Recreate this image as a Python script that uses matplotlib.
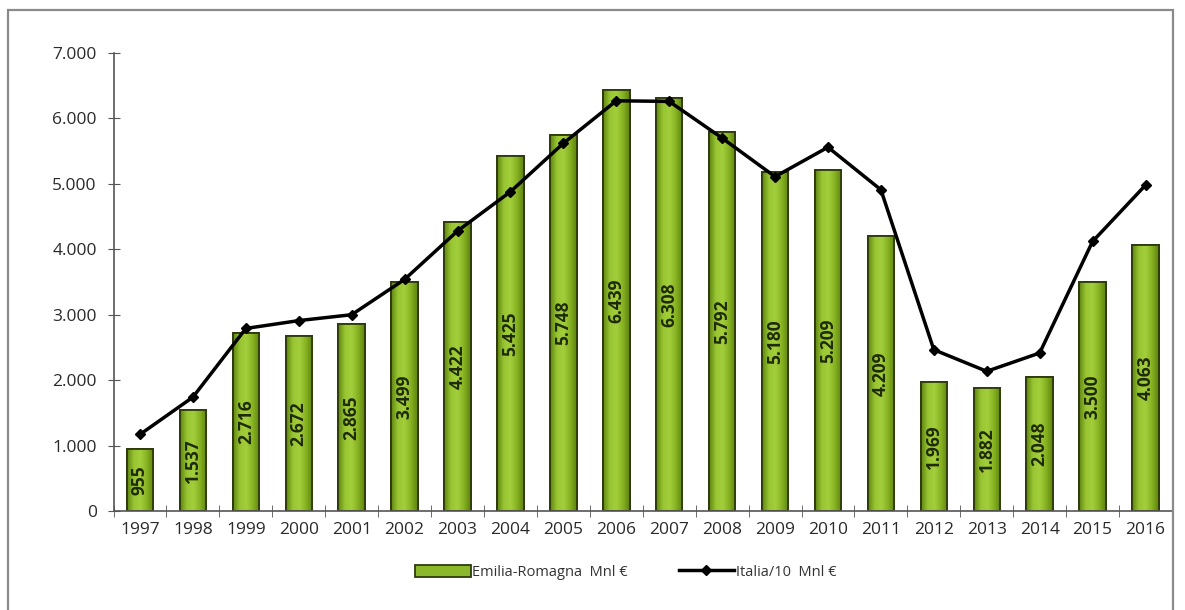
import matplotlib
matplotlib.use("Agg")
import matplotlib.pyplot as plt
from matplotlib.colors import LinearSegmentedColormap
from matplotlib.patches import Rectangle
from matplotlib.ticker import FuncFormatter, MultipleLocator
import numpy as np

plt.rcParams['font.family'] = ['Open Sans', 'DejaVu Sans']

# data
years = [str(y) for y in range(1997, 2017)]
emilia = [955, 1537, 2716, 2672, 2865, 3499, 4422, 5425, 5748, 6439,
          6308, 5792, 5180, 5209, 4209, 1969, 1882, 2048, 3500, 4063]
italia10 = [1170, 1740, 2790, 2910, 3000, 3540, 4280, 4880, 5620, 6270,
            6260, 5700, 5110, 5560, 4910, 2465, 2135, 2415, 4120, 4980]

fig = plt.figure(figsize=(11.85, 6.1), dpi=100)
ax = fig.add_axes([0.0958, 0.1623, 0.8932, 0.7508])

x = np.arange(len(years))
bars = ax.bar(x, emilia, width=0.5, color='#8AB82A', edgecolor='#2E3A0C',
              linewidth=1.3, zorder=2, label='Emilia-Romagna  Mnl \u20ac')

# cylinder-like gradient inside the bars
grad = LinearSegmentedColormap.from_list('g', ['#5F8410', '#98C532', '#A4CF3C', '#86B222', '#5E820E'])
g = np.linspace(0, 1, 64).reshape(1, -1)
for b in bars:
    x0, w, h = b.get_x(), b.get_width(), b.get_height()
    im = ax.imshow(g, cmap=grad, aspect='auto', extent=(x0, x0 + w, 0, h),
                   zorder=2.1, interpolation='bilinear')
    im.set_clip_path(b)
    ax.add_patch(Rectangle((x0, 0), w, h, fill=False, edgecolor='#2E3A0C',
                           linewidth=1.3, zorder=2.2))

# value labels, rotated and centered in bars
for xi, v in zip(x, emilia):
    ax.text(xi, v / 2, f'{v:,}'.replace(',', '.'), rotation=90, ha='center',
            va='center', fontsize=12.5, fontweight='bold', color='#1E2A04',
            fontstretch='condensed', zorder=4)

line, = ax.plot(x, italia10, color='black', linewidth=2.5, marker='D', markersize=5,
                zorder=5, label='Italia/10  Mnl \u20ac')

ax.set_xlim(-0.5, len(years) - 0.5)
ax.set_ylim(0, 7000)
ax.yaxis.set_major_locator(MultipleLocator(1000))
ax.yaxis.set_major_formatter(FuncFormatter(lambda v, p: f'{int(v):,}'.replace(',', '.')))
ax.set_xticks(x)
ax.set_xticklabels(years)
ax.set_xticks(np.arange(-0.5, len(years), 1), minor=True)
ax.tick_params(axis='x', which='major', length=0, pad=8, labelsize=12.5, labelcolor='#2A2A2A')
ax.tick_params(axis='x', which='minor', direction='inout', length=8, color='#555555')
ax.tick_params(axis='y', direction='inout', length=8, color='#555555', pad=8,
               labelsize=12.5, labelcolor='#2A2A2A')

for s in ['top', 'right']:
    ax.spines[s].set_visible(False)
for s in ['left', 'bottom']:
    ax.spines[s].set_color('#555555')
    ax.spines[s].set_linewidth(1.2)

leg = fig.legend([bars, line], ['Emilia-Romagna  Mnl \u20ac', 'Italia/10  Mnl \u20ac'],
                 loc='center', bbox_to_anchor=(0.528, 0.062), ncol=2, frameon=False,
                 fontsize=10.5, handlelength=3.8, handleheight=0.9, columnspacing=3.5,
                 handletextpad=0.1, labelcolor='#333333')

# outer frame
fig.patches.append(Rectangle((8 / 1185, -0.01), 1165 / 1185, 1 - 10 / 610 + 0.01,
                             transform=fig.transFigure, fill=False,
                             edgecolor='#8A8A8A', linewidth=1.6))

fig.savefig('out.png', dpi=100)
